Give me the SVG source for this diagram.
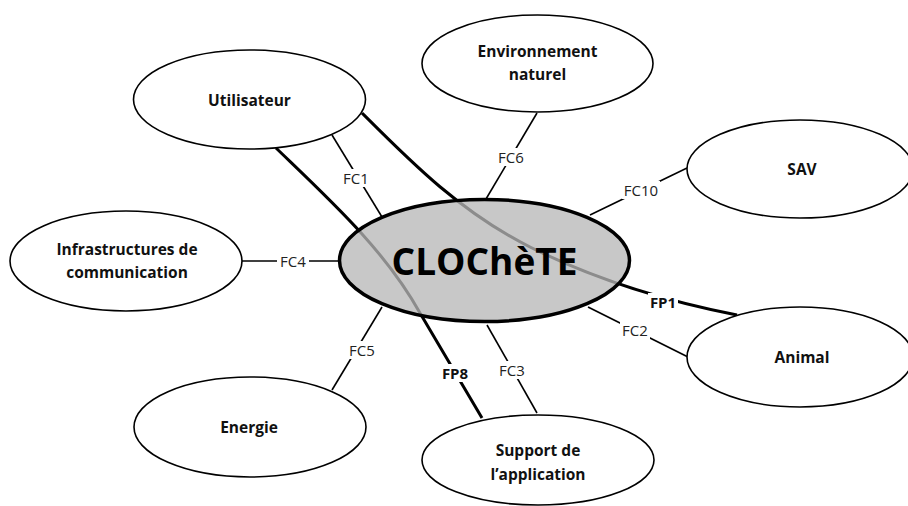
<svg xmlns="http://www.w3.org/2000/svg" width="908" height="506" viewBox="0 0 908 506">
<style>
.node{fill:#fff;stroke:#000;stroke-width:1.6}
.ntxt{font-family:"Open Sans","Liberation Sans",sans-serif;font-weight:bold;font-size:15.5px;fill:#111;text-anchor:middle}
.fc{stroke:#000;stroke-width:1.6;fill:none}
.fp{stroke:#000;stroke-width:3;fill:none}
.lbg{fill:#fff}
.ltxt{font-family:"Open Sans","Liberation Sans",sans-serif;font-size:15px;fill:#222;text-anchor:middle}
.ptxt{font-family:"Open Sans","Liberation Sans",sans-serif;font-size:15px;font-weight:bold;fill:#111;text-anchor:middle}
</style>
<rect width="908" height="506" fill="#fff"/>
<g id="connectors">
  <path class="fp" d="M362,113 C410,161 460,212 530,247 C580,272 650,298 737,315"/>
  <path class="fp" d="M276,148 C330,200 385,250 420,313 L482,418"/>
  <line class="fc" x1="332" y1="135" x2="382" y2="217"/>
  <line class="fc" x1="537" y1="113" x2="486" y2="199"/>
  <line class="fc" x1="590" y1="215" x2="687" y2="168"/>
  <line class="fc" x1="242" y1="261" x2="339" y2="261"/>
  <line class="fc" x1="588" y1="307" x2="688" y2="357"/>
  <line class="fc" x1="487" y1="325" x2="537" y2="413"/>
  <line class="fc" x1="382" y1="307" x2="332" y2="390"/>
  <rect class="lbg" x="341" y="169" width="30" height="18"/>
  <text class="ltxt" x="356" y="183.5">FC1</text>
  <rect class="lbg" x="496" y="148" width="30" height="18"/>
  <text class="ltxt" x="511" y="162.5">FC6</text>
  <rect class="lbg" x="622" y="181" width="38" height="18"/>
  <text class="ltxt" x="641" y="195.5">FC10</text>
  <rect class="lbg" x="277" y="252" width="32" height="18"/>
  <text class="ltxt" x="293" y="266.5">FC4</text>
  <rect class="lbg" x="620" y="321" width="30" height="18"/>
  <text class="ltxt" x="635" y="335.5">FC2</text>
  <rect class="lbg" x="497" y="361" width="30" height="18"/>
  <text class="ltxt" x="512" y="375.5">FC3</text>
  <rect class="lbg" x="347" y="341" width="30" height="18"/>
  <text class="ltxt" x="362" y="355.5">FC5</text>
  <rect class="lbg" x="648" y="293" width="30" height="18"/>
  <text class="ptxt" x="663" y="307.5">FP1</text>
  <rect class="lbg" x="440" y="364" width="30" height="18"/>
  <text class="ptxt" x="455" y="378.5">FP8</text>
</g>
<g id="center">
  <ellipse cx="484.5" cy="260.5" rx="145" ry="61" fill="#b7b7b7" fill-opacity="0.765" stroke="#000" stroke-width="3.5"/>
  <text x="484.5" y="275" font-family="'Open Sans','Liberation Sans',sans-serif" font-weight="bold" font-size="37" fill="#000" text-anchor="middle">CLOChèTE</text>
</g>
<g id="utilisateur">
  <ellipse class="node" cx="249.5" cy="99.5" rx="116" ry="49.5"/>
  <text class="ntxt" x="249.5" y="105.5">Utilisateur</text>
</g>
<g id="environnement">
  <ellipse class="node" cx="537.5" cy="63.5" rx="115.5" ry="48.5"/>
  <text class="ntxt" x="537.5" y="57">Environnement</text>
  <text class="ntxt" x="537.5" y="80">naturel</text>
</g>
<g id="sav">
  <ellipse class="node" cx="800" cy="169" rx="113" ry="49"/>
  <text class="ntxt" x="802" y="174.5">SAV</text>
</g>
<g id="infrastructures">
  <ellipse class="node" cx="126" cy="261" rx="116" ry="50"/>
  <text class="ntxt" x="127" y="255">Infrastructures de</text>
  <text class="ntxt" x="127" y="278">communication</text>
</g>
<g id="animal">
  <ellipse class="node" cx="800" cy="357" rx="113" ry="50"/>
  <text class="ntxt" x="802" y="363">Animal</text>
</g>
<g id="energie">
  <ellipse class="node" cx="250" cy="427" rx="116" ry="50"/>
  <text class="ntxt" x="249" y="433">Energie</text>
</g>
<g id="support">
  <ellipse class="node" cx="538" cy="460" rx="116" ry="45"/>
  <text class="ntxt" x="538" y="456">Support de</text>
  <text class="ntxt" x="538" y="480">l’application</text>
</g>
</svg>
